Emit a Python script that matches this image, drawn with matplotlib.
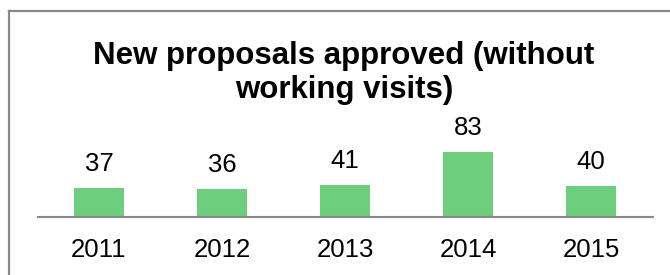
import matplotlib.pyplot as plt
from matplotlib.lines import Line2D

# ------------------------
# Data
# ------------------------

years = ["2011", "2012", "2013", "2014", "2015"]
approved = [37, 36, 41, 83, 40]
title = "New proposals approved (without\nworking visits)"

BAR_COLOR = "#6dce7e"
AXIS_COLOR = "#898989"

plt.rcParams["font.family"] = ["Liberation Sans", "DejaVu Sans"]

W, H = 670, 275
fig = plt.figure(figsize=(W / 100, H / 100), dpi=100)

# chart frame (runs off the right and bottom edges)
fx, fy = 8.5 / W, 1 - 11 / H
fig.lines.append(Line2D([fx, fx], [0, fy], transform=fig.transFigure,
                        color=AXIS_COLOR, linewidth=1.6))
fig.lines.append(Line2D([fx, 1], [fy, fy], transform=fig.transFigure,
                        color=AXIS_COLOR, linewidth=1.6))

# plot area: baseline at y=217px, 0.79 px per unit
ax = fig.add_axes([37.5 / W, (H - 217.3) / H, 615 / W, 79 / H])
x = range(len(years))
bars = ax.bar(x, approved, width=0.4, color=BAR_COLOR)
ax.set_xlim(-0.5, len(years) - 0.5)
ax.set_ylim(0, 100)

for b, v in zip(bars, approved):
    ax.annotate(str(v), (b.get_x() + b.get_width() / 2, v),
                xytext=(0, 12), textcoords="offset points",
                ha="center", va="baseline", fontsize=18.5)

ax.set_xticks(list(x))
ax.set_xticklabels(years, fontsize=18.5)
ax.tick_params(axis="x", length=0, pad=15)
ax.set_yticks([])
for s in ["top", "left", "right"]:
    ax.spines[s].set_visible(False)
ax.spines["bottom"].set_color(AXIS_COLOR)
ax.spines["bottom"].set_linewidth(1.5)
ax.patch.set_visible(False)

# title, baseline of the second line at y=98px
fig.text(344 / W, 1 - 98 / H, title, ha="center", va="baseline",
         fontsize=22.5, fontweight="bold", linespacing=1.17)

fig.savefig("out.png", dpi=100)
